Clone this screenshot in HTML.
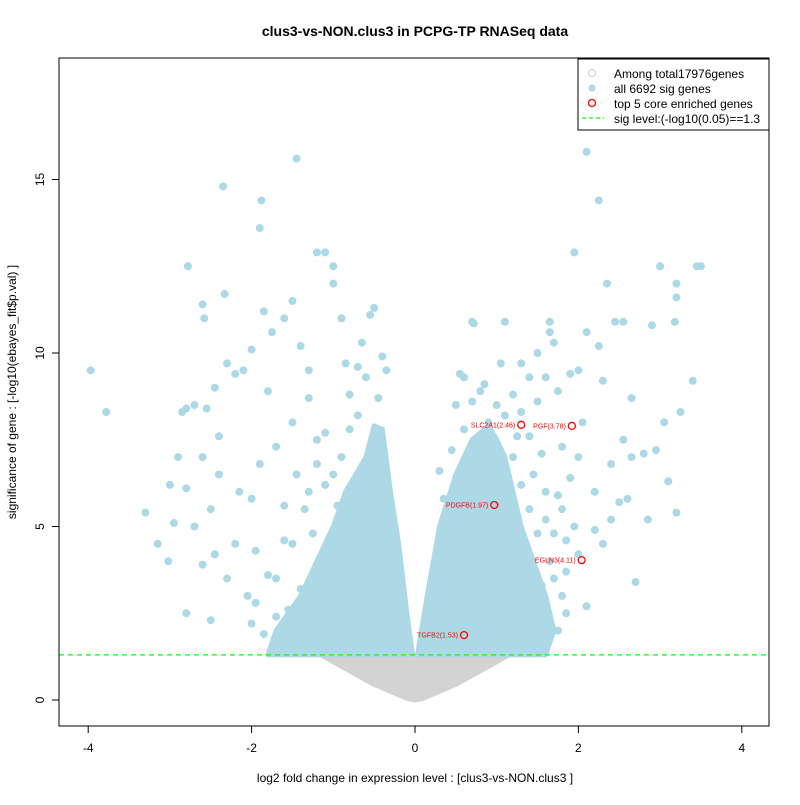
<!DOCTYPE html>
<html><head><meta charset="utf-8"><style>
body{margin:0;background:#fff;}
svg text{font-family:"Liberation Sans",Arial,sans-serif;}
</style></head><body>
<svg id="chart" width="800" height="800" xmlns="http://www.w3.org/2000/svg">
<text x="415" y="36" text-anchor="middle" font-size="14" font-weight="bold">clus3-vs-NON.clus3 in PCPG-TP RNASeq data</text>
<g id="plot"></g>
<rect x="59" y="58" width="710" height="668" fill="none" stroke="#000"/>
<text x="415" y="782" text-anchor="middle" font-size="12">log2 fold change in expression level : [clus3-vs-NON.clus3 ]</text>
<text transform="translate(16,392) rotate(-90)" text-anchor="middle" font-size="12">significance of gene : [-log10(ebayes_fit$p.val) ]</text>
<g>
<rect x="578" y="59" width="191" height="71" fill="#fff" stroke="#000"/>
<circle cx="592" cy="73" r="3.5" fill="none" stroke="#ccc"/>
<text x="614" y="78" font-size="12">Among total17976genes</text>
<circle cx="592" cy="88" r="3.5" fill="#add8e6"/>
<text x="614" y="93" font-size="12">all 6692 sig genes</text>
<circle cx="592" cy="103" r="3.5" fill="none" stroke="red" stroke-width="1.3"/>
<text x="614" y="108" font-size="12">top 5 core enriched genes</text>
<line x1="582" y1="118" x2="604" y2="118" stroke="#0f0" stroke-dasharray="4,3" stroke-width="1.3"/>
<text x="614" y="123" font-size="12">sig level:(-log10(0.05)==1.3</text>
</g>
</svg>
<script>
const xTicks=[-4,-2,0,2,4];
const yTicks=[0,5,10,15];
const sigLevel=1.3;
const grayEnvelope=[[-1.15,1.3],[-0.5,0.45],[-0.1,0.05],[0,0],[0.1,0.05],[0.5,0.45],[1.15,1.3]];
const leftEnvelope=[[-0.03,1.3],[-0.1,2.5],[-0.2,4.5],[-0.3,6],[-0.4,7.8],[-0.5,7.9],[-0.6,7.0],[-0.85,6],[-1.0,5],[-1.2,4],[-1.4,3],[-1.7,2],[-1.8,1.3]];
const rightEnvelope=[[0.03,1.3],[0.15,3],[0.3,5],[0.5,6.5],[0.7,7.5],[0.9,7.9],[1.0,7.5],[1.1,7],[1.2,6],[1.3,5],[1.45,4],[1.6,3],[1.7,2],[1.6,1.3]];
const sigPoints=[[-3.97,9.5],[-3.78,8.3],[-3.3,5.4],[-3.15,4.5],[-3.0,6.2],[-3.02,4.0],[-2.95,5.1],[-2.85,8.3],[-2.8,8.4],[-2.8,6.1],[-2.78,12.5],[-2.7,8.5],[-2.6,11.4],[-2.58,11.0],[-2.55,8.4],[-2.5,5.5],[-2.45,9.0],[-2.4,7.6],[-2.35,14.8],[-2.33,11.7],[-2.3,9.7],[-2.2,9.4],[-2.1,9.5],[-2.0,10.1],[-1.9,13.6],[-1.88,14.4],[-1.85,11.2],[-1.75,10.6],[-1.6,11.0],[-1.5,11.5],[-1.45,15.6],[-1.4,10.2],[-1.3,9.5],[-1.2,12.9],[-1.1,12.9],[-1.0,12.5],[-1.0,12.0],[-0.9,11.0],[-0.85,9.7],[-0.7,9.6],[-0.55,11.1],[-0.5,11.3],[-0.65,10.3],
[-2.6,3.9],[-2.5,2.3],[-2.8,2.5],[-2.3,3.5],[-2.2,4.5],[-2.4,6.5],[-2.6,7.0],[-2.0,5.8],[-2.05,3.0],[-1.9,6.8],[-1.8,8.9],[-1.7,7.3],[-1.5,8.0],[-1.95,4.3],[-1.6,5.6],[-2.9,7.0],[-2.7,5.0],[-2.45,4.2],[-2.15,6.0],[-1.85,1.9],[-1.7,2.4],[-1.45,6.5],[-1.3,8.7],[-1.1,7.7],
[-1.2,6.8],[-1.0,6.5],[-1.35,5.5],[-1.6,4.6],[-1.8,3.6],[-1.95,2.8],[-0.8,8.8],[-0.6,9.3],[-0.4,9.9],[-0.35,9.5],[-0.45,8.7],
[-1.5,4.5],[-1.3,6],[-1.1,6.2],[-0.9,7],[-0.8,7.8],[-1.7,3.5],[-2.0,2.2],[-1.4,3.2],[-1.2,7.5],[-0.7,8.2],[-1.25,4.8],[-1.55,2.6],[-0.95,5.6],
[2.1,15.8],[2.25,14.4],[1.95,12.9],[3.0,12.5],[3.45,12.5],[3.5,12.5],[3.2,12.0],[3.2,11.6],[2.35,12.0],[2.45,10.9],[2.55,10.9],[3.18,10.9],[2.9,10.8],[2.1,10.6],[2.25,10.2],[2.3,9.2],[3.4,9.2],[1.1,10.9],[0.7,10.9],[0.72,10.85],[1.65,10.9],[1.65,10.6],[1.7,10.3],[1.5,10.0],[3.05,8.0],[3.25,8.3],[2.65,8.7],[2.8,7.1],[2.65,7.0],[2.95,7.2],[3.1,6.3],[2.55,7.5],[2.4,6.8],[2.2,6.0],[2.6,5.8],[2.5,5.7],[2.85,5.2],[3.2,5.4],[2.3,4.5],[2.7,3.4],[2.1,2.7],[2.2,4.9],[1.85,3.7],[1.8,5.5],[1.9,6.4],[2.0,7.0],[1.9,9.4],[2.0,9.5],[1.75,8.9],[1.6,9.3],[1.4,9.3],[1.3,9.7],[0.55,9.4],[0.6,9.3],[0.85,9.1],[1.05,9.7],[1.2,8.8],[0.6,7.8],[0.45,7.2],[0.35,5.8],[0.3,6.6],[2.05,8.0],[1.8,7.3],[1.7,4.8],[1.6,2.8],[1.55,3.3],[1.85,2.5],[2.4,5.2],[2.0,4.2],
[0.5,8.5],[0.7,8.6],[0.9,8.0],[1.1,8.2],[1.3,8.3],[1.5,8.6],[1.4,7.6],[1.55,7.1],[1.6,6.0],[1.45,6.5],[1.75,5.9],[1.85,4.6],[1.65,4.0],[1.95,5.0],
[1.2,7],[1.3,6.2],[1.4,5.5],[1.5,4.8],[1.7,3.5],[1.8,3.0],[1.75,2.0],[1.2,5.0],[1.0,8.5],[0.8,8.9],[1.35,4.2],[1.6,5.2],[1.25,7.6]];
const topGenes=["SLC2A1(2.46)","PGF(3.78)","PDGFB(1.97)","EGLN3(4.11)","TGFB2(1.53)"];
const topX=[1.30,1.92,0.97,2.04,0.60];
const topY=[7.93,7.9,5.62,4.03,1.87];

const NS="http://www.w3.org/2000/svg";
const plot=document.getElementById('plot');
const sx=v=>415+v*81.7;
const sy=v=>700-v*34.7;
function mk(tag,attrs,parent){const e=document.createElementNS(NS,tag);for(const k in attrs)e.setAttribute(k,attrs[k]);(parent||plot).appendChild(e);return e;}
function poly(pts,fill,name){
  const e=mk('polygon',{points:pts.map(p=>sx(p[0])+','+sy(p[1])).join(' '),fill:fill,stroke:fill,'stroke-width':5,'stroke-linejoin':'round'});
  
  
}
poly(grayEnvelope,'#d3d3d3','nonsig-gene-cloud');
poly(leftEnvelope,'#add8e6','down-sig-gene-cloud');
poly(rightEnvelope,'#add8e6','up-sig-gene-cloud');
sigPoints.forEach(p=>{
  const c=mk('circle',{cx:sx(p[0]),cy:sy(p[1]),r:4,fill:'#add8e6'});
  
  
});
topGenes.forEach((g,i)=>{
  const c=mk('circle',{cx:sx(topX[i]),cy:sy(topY[i]),r:3.5,fill:'none',stroke:'red','stroke-width':1.3});
  
  
  const t=mk('text',{x:sx(topX[i])-6,y:sy(topY[i])+2.5,'text-anchor':'end','font-size':7,fill:'red'});
  t.textContent=g;
  
  
});
const sl=mk('line',{x1:59,x2:769,y1:sy(sigLevel),y2:sy(sigLevel),stroke:'#0f0','stroke-dasharray':'5,4','stroke-width':1.3});


xTicks.forEach(v=>{
  const l=mk('line',{x1:sx(v),x2:sx(v),y1:726,y2:733,stroke:'#000'});
  
  
  const t=mk('text',{x:sx(v),y:752,'text-anchor':'middle','font-size':12});
  t.textContent=v;
  
  
});
yTicks.forEach(v=>{
  const l=mk('line',{x1:52,x2:59,y1:sy(v),y2:sy(v),stroke:'#000'});
  
  
  const t=mk('text',{transform:`translate(44,${sy(v)}) rotate(-90)`,'text-anchor':'middle','font-size':12});
  t.textContent=v;
  
  
});
</script>
</body></html>
